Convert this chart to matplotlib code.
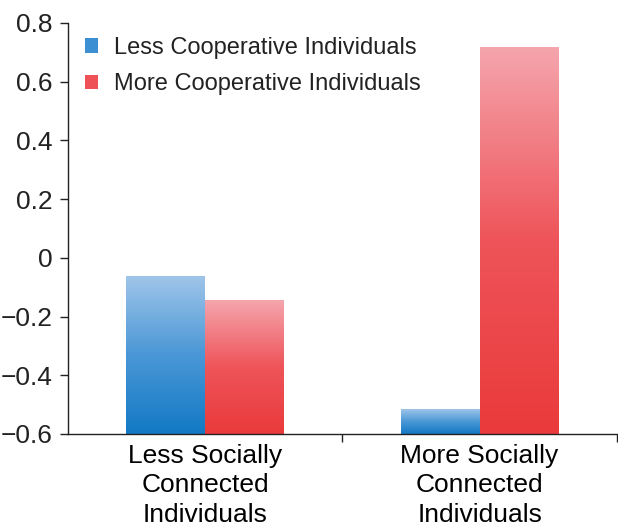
import matplotlib.pyplot as plt
import numpy as np
from matplotlib.colors import LinearSegmentedColormap
from matplotlib.patches import Patch

plt.rcParams['font.family'] = ['Liberation Sans', 'DejaVu Sans']

groups = ['Less Socially\nConnected\nIndividuals', 'More Socially\nConnected\nIndividuals']
series = ['Less Cooperative Individuals', 'More Cooperative Individuals']
less_coop = [-0.065, -0.515]
more_coop = [-0.145, 0.718]

blue_cmap = LinearSegmentedColormap.from_list('b', ['#1279c4', '#4a97d6', '#9fc5e9'])
red_cmap = LinearSegmentedColormap.from_list('r', ['#ea3a3b', '#ee5459', '#f5a5ad'])

base = -0.6
width = 0.287
centers = np.array([0.5, 1.5])

fig = plt.figure(figsize=(6.18, 5.29), dpi=100)
ax = fig.add_axes([0.110, 0.1796, 0.888, 0.777])

grad = np.linspace(0, 1, 256).reshape(-1, 1)


def gradient_bars(xs, vals, cmap):
    bars = ax.bar(xs, np.array(vals) - base, width, bottom=base, color='none', edgecolor='none')
    for b in bars:
        x0, y0 = b.get_x(), b.get_y()
        ax.imshow(grad, extent=[x0, x0 + b.get_width(), y0, y0 + b.get_height()],
                  origin='lower', aspect='auto', cmap=cmap, zorder=2)


gradient_bars(centers - width / 2, less_coop, blue_cmap)
gradient_bars(centers + width / 2, more_coop, red_cmap)

ax.set_xlim(0, 2)
ax.set_ylim(-0.6, 0.8)
ax.set_yticks(np.arange(-0.6, 0.81, 0.2))
ax.set_yticklabels(['\u22120.6', '\u22120.4', '\u22120.2', '0', '0.2', '0.4', '0.6', '0.8'])
ax.set_xticks([1, 2])
ax.set_xticklabels(['', ''])
ax.set_xticks(centers, minor=True)
ax.set_xticklabels(groups, minor=True, fontsize=19, linespacing=1.3)
ax.tick_params(axis='x', which='minor', length=0, pad=7)
ax.tick_params(axis='both', which='major', direction='out', length=6, width=1, labelsize=19, colors='#222222')
ax.tick_params(axis='y', pad=5)

for s in ['top', 'right']:
    ax.spines[s].set_visible(False)
for s in ['left', 'bottom']:
    ax.spines[s].set_color('#222222')
    ax.spines[s].set_linewidth(1)

handles = [Patch(facecolor='#3d8fd3'), Patch(facecolor='#ee5257')]
ax.legend(handles, series, loc='upper left', bbox_to_anchor=(-0.008, 1.018), frameon=False,
          fontsize=17, handlelength=0.55, handleheight=0.55, handletextpad=0.7,
          labelspacing=0.6, labelcolor='#222222')

plt.savefig('out.png', dpi=100)
